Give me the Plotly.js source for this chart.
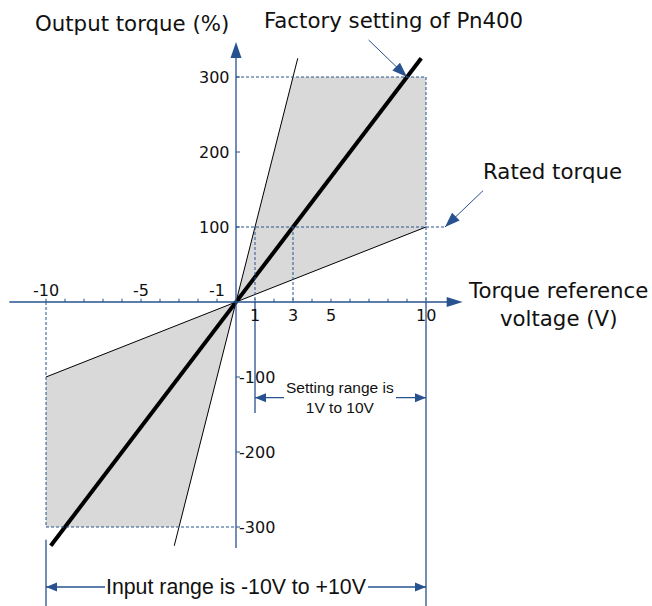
<!DOCTYPE html>
<html>
<head>
<meta charset="utf-8">
<script src="https://cdn.plot.ly/plotly-3.0.1.min.js"></script>
<style>
  html, body { margin: 0; padding: 0; background: #ffffff; }
  #chart { width: 652px; height: 606px; }
</style>
</head>
<body>
<div id="chart"></div>
<script>
// Analog torque reference: output torque (%) versus reference voltage (V)

// Gain lines
const factoryV = [-9.75, 9.75];      // Pn400 factory setting (100 % at 3 V)
const factoryT = [-325, 325];
const maxGainV = [-3.25, 3.25];      // 100 % at 1 V
const maxGainT = [-325, 325];
const minGainV = [-10, 10];          // 100 % at 10 V
const minGainT = [-100, 100];

// Adjustable region (shaded)
const upperRegionV = [0, 3, 10, 10, 0];
const upperRegionT = [0, 300, 300, 100, 0];
const lowerRegionV = [0, -10, -10, -3, 0];
const lowerRegionT = [0, -100, -300, -300, 0];

// Axis ticks and labels
const voltTicks = [-10, -9, -8, -7, -6, -5, -4, -3, -2, -1, 1, 2, 3, 4, 5, 6, 7, 8, 9, 10];
const voltLabelsAbove = ['-10', '-5', '-1'];
const voltLabelsBelow = ['1', '3', '5', '10'];
const torqueTicks = [300, 200, 100, -100, -200, -300];

// Key values
const ratedTorque = 100;
const maxTorque = 300;
const factoryVoltAtRated = 3;
const settingMinV = 1;
const inputMaxV = 10;

const W = 652, H = 606;
const xRange = [-236 / 19, 416 / 19];
const yRange = [-304 / 0.75, 302 / 0.75];
const sx = W / (xRange[1] - xRange[0]);
const sy = H / (yRange[1] - yRange[0]);

const BLUE = '#27528f';
const TXT = '#111111';
const TITLE_FONT = 'DejaVu Sans, Verdana, sans-serif';
const ARIAL = 'Liberation Sans, Arial, sans-serif';

function seg(x0, y0, x1, y1, opts) {
  return Object.assign({
    type: 'line', xref: 'x', yref: 'y', x0: x0, y0: y0, x1: x1, y1: y1,
    line: { color: BLUE, width: 1.3 }
  }, opts || {});
}
function dotted(x0, y0, x1, y1) {
  return seg(x0, y0, x1, y1, { line: { color: BLUE, width: 1, dash: '3px,2px' } });
}
// filled arrowhead whose tip sits on (x1, y1), pointing from (x0, y0)
function head(x0, y0, x1, y1, len, wid) {
  let ux = (x1 - x0) * sx, uy = (y1 - y0) * sy;
  const n = Math.hypot(ux, uy); ux /= n; uy /= n;
  const bx = -len * ux, by = -len * uy;
  const px = -uy * wid / 2, py = ux * wid / 2;
  return {
    type: 'path', xref: 'x', yref: 'y', xsizemode: 'pixel', ysizemode: 'pixel',
    xanchor: x1, yanchor: y1,
    path: `M0,0 L${(bx + px).toFixed(2)},${(by + py).toFixed(2)} L${(bx - px).toFixed(2)},${(by - py).toFixed(2)} Z`,
    fillcolor: BLUE, line: { width: 0 }
  };
}
function label(text, x, y, o) {
  return Object.assign({
    text: text, x: x, y: y, xref: 'x', yref: 'y', showarrow: false,
    borderpad: 0, borderwidth: 0,
    font: { family: TITLE_FONT, size: 16, color: TXT }
  }, o || {});
}

const traces = [
  { x: upperRegionV, y: upperRegionT, mode: 'lines', fill: 'toself', fillcolor: '#d9d9d9',
    line: { width: 0 }, hoverinfo: 'skip' },
  { x: lowerRegionV, y: lowerRegionT, mode: 'lines', fill: 'toself', fillcolor: '#d9d9d9',
    line: { width: 0 }, hoverinfo: 'skip' },
  { x: minGainV, y: minGainT, mode: 'lines', line: { color: '#000000', width: 1 }, hoverinfo: 'skip' },
  { x: maxGainV, y: maxGainT, mode: 'lines', line: { color: '#000000', width: 1 }, hoverinfo: 'skip' },
  { x: factoryV, y: factoryT, mode: 'lines', line: { color: '#000000', width: 4 }, hoverinfo: 'skip' }
];

const xAxisEnd = 11.93, yAxisTop = 346.7, yAxisBottom = -328;
const settingY = -127.6, inputY = -380;
const pnFrom = [6.98, 349.3], pnTo = [factoryVoltAtRated * 3, maxTorque];
const ratedFrom = [13, 148.4], ratedTo = [11, ratedTorque];

const shapes = [
  // guide lines
  dotted(0, maxTorque, inputMaxV, maxTorque),
  dotted(inputMaxV, maxTorque, inputMaxV, 0),
  dotted(0, ratedTorque, ratedTo[0], ratedTorque),
  dotted(settingMinV, ratedTorque, settingMinV, 0),
  dotted(factoryVoltAtRated, ratedTorque, factoryVoltAtRated, 0),
  dotted(-inputMaxV, 0, -inputMaxV, -maxTorque),
  dotted(-inputMaxV, -maxTorque, 0, -maxTorque),
  // axes
  seg(-xAxisEnd, 0, xAxisEnd - 0.5, 0),
  seg(0, yAxisBottom, 0, yAxisTop - 12),
  head(0, 0, xAxisEnd, 0, 16, 10),
  head(0, 0, 0, yAxisTop, 16, 11),
  // dimension lines
  seg(settingMinV, 0, settingMinV, -148),
  seg(inputMaxV, 0, inputMaxV, yRange[0]),
  seg(-inputMaxV, -317, -inputMaxV, yRange[0]),
  seg(settingMinV, settingY, inputMaxV, settingY),
  head(inputMaxV, settingY, settingMinV, settingY, 11, 9),
  head(settingMinV, settingY, inputMaxV, settingY, 11, 9),
  seg(-inputMaxV, inputY, inputMaxV, inputY),
  head(inputMaxV, inputY, -inputMaxV, inputY, 11, 9),
  head(-inputMaxV, inputY, inputMaxV, inputY, 11, 9),
  // pointers
  seg(pnFrom[0], pnFrom[1], pnTo[0], pnTo[1], { line: { color: BLUE, width: 1 } }),
  head(pnFrom[0], pnFrom[1], pnTo[0], pnTo[1], 15, 11),
  seg(ratedFrom[0], ratedFrom[1], ratedTo[0], ratedTo[1], { line: { color: BLUE, width: 1 } }),
  head(ratedFrom[0], ratedFrom[1], ratedTo[0], ratedTo[1], 15, 11)
];

// axis tick marks
voltTicks.forEach(v => shapes.push({
  type: 'line', xref: 'x', yref: 'y', ysizemode: 'pixel', yanchor: 0,
  x0: v, x1: v, y0: 0, y1: 3.3, line: { color: BLUE, width: 1 }
}));
torqueTicks.forEach(t => shapes.push({
  type: 'line', xref: 'x', yref: 'y', xsizemode: 'pixel', xanchor: 0,
  x0: 0, x1: 4, y0: t, y1: t, line: { color: BLUE, width: 1 }
}));

const annotations = [];
voltLabelsAbove.forEach(s => annotations.push(label(s, Number(s), 0, { yshift: 12 })));
voltLabelsBelow.forEach(s => annotations.push(label(s, Number(s), 0, { yshift: -13.5 })));
torqueTicks.forEach(t => annotations.push(
  t > 0 ? label(String(t), 0, t, { xanchor: 'right', xshift: -6.5 })
        : label(String(t), 0, t, { xanchor: 'left', xshift: 2.5 })
));

annotations.push(
  label('Output torque (%)', -5.474, 370.7, { font: { family: TITLE_FONT, size: 21.3, color: TXT } }),
  label('Factory setting of Pn400', 8.29, 376, { font: { family: TITLE_FONT, size: 21.3, color: TXT } }),
  label('Torque reference<br>voltage (V)', 16.95, -2.67, { font: { family: TITLE_FONT, size: 21.3, color: TXT } }),
  label('Rated torque', 16.66, 173.7, { font: { family: TITLE_FONT, size: 21.3, color: TXT } }),
  label('Setting range is<br>1V to 10V', 5.45, settingY,
        { bgcolor: '#ffffff', borderpad: 2, font: { family: ARIAL, size: 15.5, color: TXT } }),
  label('Input range is -10V to +10V', 0, inputY,
        { bgcolor: '#ffffff', borderpad: 1, font: { family: ARIAL, size: 21.3, color: TXT } })
);

const layout = {
  width: W, height: H,
  margin: { l: 0, r: 0, t: 0, b: 0, pad: 0 },
  paper_bgcolor: '#ffffff', plot_bgcolor: '#ffffff',
  showlegend: false,
  xaxis: { range: xRange, visible: false, fixedrange: true },
  yaxis: { range: yRange, visible: false, fixedrange: true },
  shapes: shapes,
  annotations: annotations
};

Plotly.newPlot('chart', traces, layout, { staticPlot: true, displayModeBar: false });
</script>
</body>
</html>
